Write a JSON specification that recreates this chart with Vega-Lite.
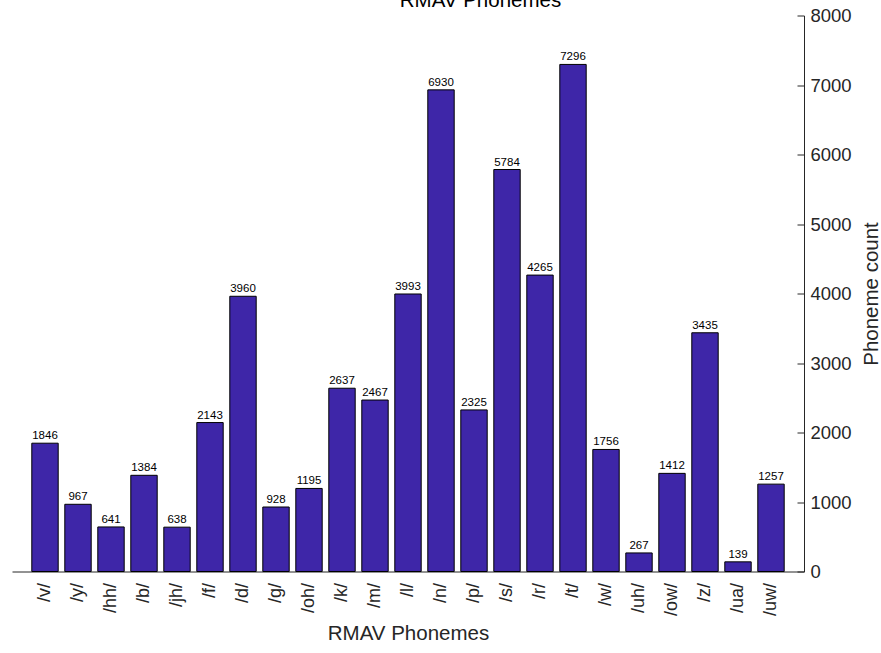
{
  "$schema": "https://vega.github.io/schema/vega-lite/v6.json",
  "autosize": {"type": "none"},
  "width": 792,
  "height": 556,
  "padding": {"left": 12, "top": 15.5, "right": 77, "bottom": 81.5},
  "background": "white",
  "data": {
    "values": [
      {"phoneme": "/v/", "count": 1846},
      {"phoneme": "/y/", "count": 967},
      {"phoneme": "/hh/", "count": 641},
      {"phoneme": "/b/", "count": 1384},
      {"phoneme": "/jh/", "count": 638},
      {"phoneme": "/f/", "count": 2143},
      {"phoneme": "/d/", "count": 3960},
      {"phoneme": "/g/", "count": 928},
      {"phoneme": "/oh/", "count": 1195},
      {"phoneme": "/k/", "count": 2637},
      {"phoneme": "/m/", "count": 2467},
      {"phoneme": "/l/", "count": 3993},
      {"phoneme": "/n/", "count": 6930},
      {"phoneme": "/p/", "count": 2325},
      {"phoneme": "/s/", "count": 5784},
      {"phoneme": "/r/", "count": 4265},
      {"phoneme": "/t/", "count": 7296},
      {"phoneme": "/w/", "count": 1756},
      {"phoneme": "/uh/", "count": 267},
      {"phoneme": "/ow/", "count": 1412},
      {"phoneme": "/z/", "count": 3435},
      {"phoneme": "/ua/", "count": 139},
      {"phoneme": "/uw/", "count": 1257}
    ]
  },
  "encoding": {
    "y": {
      "field": "count",
      "type": "quantitative",
      "scale": {"domain": [0, 8000], "nice": false},
      "axis": {
        "orient": "right",
        "title": "Phoneme count",
        "titleFont": "Liberation Sans",
        "titleFontSize": 20.5,
        "titleFontWeight": "normal",
        "titleColor": "#262626",
        "titleAngle": 270,
        "titleBaseline": "top",
        "titlePadding": 10,
        "values": [0, 1000, 2000, 3000, 4000, 5000, 6000, 7000, 8000],
        "format": "d",
        "labelFont": "Liberation Sans",
        "labelFontSize": 18.5,
        "labelColor": "#262626",
        "labelPadding": 13,
        "tickSize": -7,
        "tickColor": "#262626",
        "domainColor": "#262626",
        "grid": false
      }
    }
  },
  "layer": [
    {
      "mark": {"type": "bar", "color": "#3E26A8", "stroke": "#000000", "strokeWidth": 1},
      "encoding": {
        "x": {
          "field": "phoneme",
          "type": "nominal",
          "sort": null,
          "scale": {"paddingInner": 0.2, "paddingOuter": 0.6},
          "axis": {
            "title": "RMAV Phonemes",
            "titleFont": "Liberation Sans",
            "titleFontSize": 20.5,
            "titleFontWeight": "normal",
            "titleColor": "#262626",
            "titlePadding": 8,
            "labelAngle": -90,
            "labelFont": "Liberation Sans",
            "labelFontSize": 18,
            "labelColor": "#262626",
            "labelPadding": 19,
            "tickSize": -8,
            "tickColor": "#555555",
            "domainColor": "#262626",
            "domainWidth": 1,
            "grid": false
          }
        }
      }
    },
    {
      "mark": {"type": "text", "baseline": "alphabetic", "dy": -4, "font": "Liberation Sans", "fontSize": 11.5, "color": "#000000"},
      "encoding": {
        "x": {
          "field": "phoneme",
          "type": "nominal",
          "sort": null,
          "axis": {
            "orient": "top",
            "title": "RMAV Phonemes",
            "titleFont": "Liberation Sans",
            "titleFontSize": 20.5,
            "titleFontWeight": "normal",
            "titleColor": "#000000",
            "titleBaseline": "alphabetic",
            "titleAlign": "center",
            "titleX": 468,
            "titlePadding": 9.5,
            "labels": false,
            "ticks": false,
            "domain": false,
            "grid": false
          }
        },
        "text": {"field": "count", "type": "quantitative"}
      }
    }
  ],
  "resolve": {"axis": {"x": "independent"}},
  "config": {"view": {"stroke": null}}
}
